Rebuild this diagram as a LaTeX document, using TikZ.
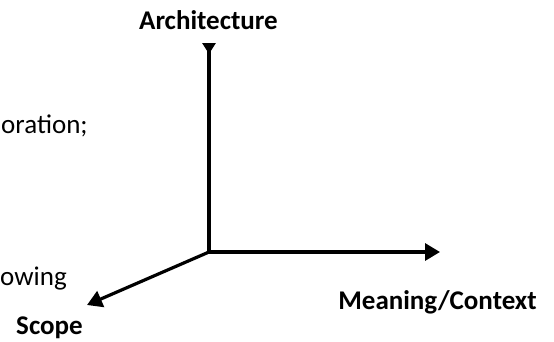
\documentclass[tikz,border=0pt]{standalone}
\usepackage{fontspec}
\setmainfont{Carlito}
\usetikzlibrary{arrows.meta}
\begin{document}
\begin{tikzpicture}[x=1bp,y=-1bp,
  axis/.style={line width=3.2bp},
  lbl/.style={inner sep=0, anchor=base, font=\fontsize{27bp}{32bp}\selectfont\bfseries},
  txt/.style={inner sep=0, anchor=base west, font=\fontsize{27bp}{32bp}\selectfont}]
\useasboundingbox (0,0) rectangle (554,341);
\coordinate (o) at (209,252);
\coordinate (arch) at (209,43);
\coordinate (mean) at (440,252);
\coordinate (scp) at (87,305);
\draw[axis, -{Triangle[reversed, length=11bp, width=13bp]}](o) -- (arch);
\draw[axis, -{Triangle[length=15bp, width=17bp]}](o) -- (mean);
\draw[axis, -{Triangle[length=15bp, width=17bp]}](o) -- (scp);
\node[lbl] (archlbl) at (208.5,29){Architecture};
\node[lbl] (meanlbl) at (437.5,309){Meaning/Context};
\node[lbl] (scplbl) at (49.5,334){Scope};
\node[txt] (txt0) at (1,133){oration;};
\node[txt] (txt1) at (0,285){owing};

\end{tikzpicture}
\end{document}
